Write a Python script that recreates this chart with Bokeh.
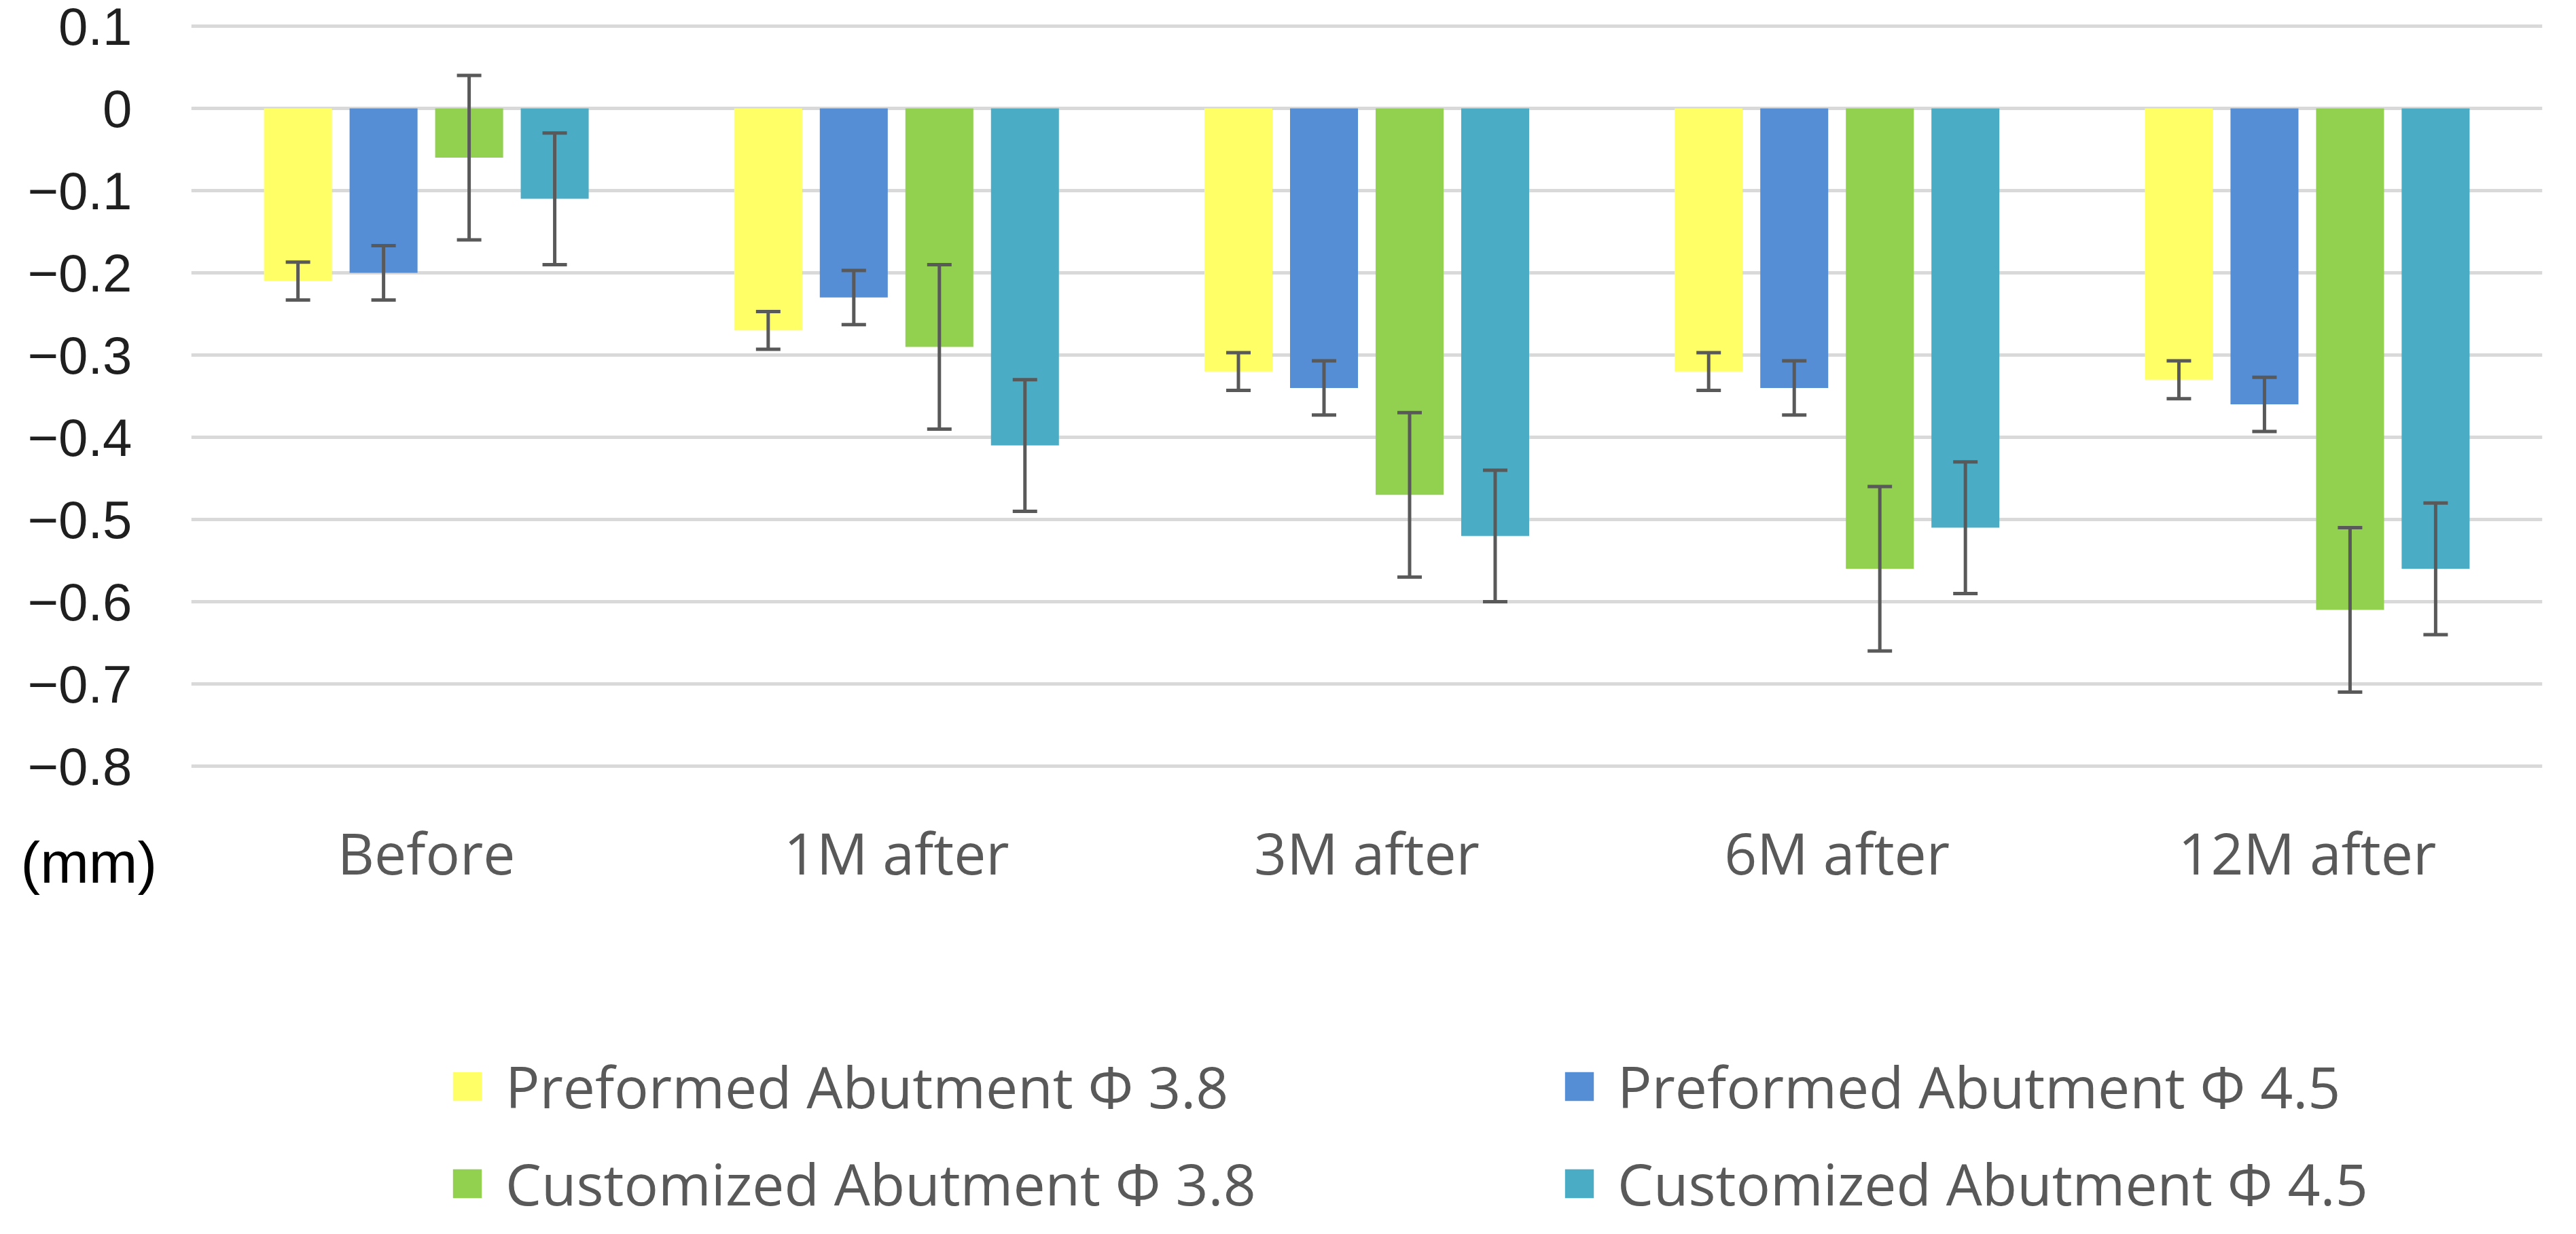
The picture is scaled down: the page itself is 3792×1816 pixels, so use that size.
from bokeh.plotting import figure
from bokeh.models import (ColumnDataSource, FactorRange, Range1d, FixedTicker, Whisker,
                          TeeHead, Legend, LegendItem, LinearAxis)
from bokeh.core.properties import value
from bokeh.transform import dodge
from bokeh.embed import file_html
from bokeh.resources import INLINE

# ---------------- data ----------------
categories = ["Before", "1M after", "3M after", "6M after", "12M after"]
series_names = ["Preformed Abutment \u03a6 3.8", "Preformed Abutment \u03a6 4.5",
                "Customized Abutment \u03a6 3.8", "Customized Abutment \u03a6 4.5"]
preformed_38 = [-0.21, -0.27, -0.32, -0.32, -0.33]
preformed_38_err = [0.023, 0.023, 0.023, 0.023, 0.023]
preformed_45 = [-0.20, -0.23, -0.34, -0.34, -0.36]
preformed_45_err = [0.033, 0.033, 0.033, 0.033, 0.033]
customized_38 = [-0.06, -0.29, -0.47, -0.56, -0.61]
customized_38_err = [0.10, 0.10, 0.10, 0.10, 0.10]
customized_45 = [-0.11, -0.41, -0.52, -0.51, -0.56]
customized_45_err = [0.08, 0.08, 0.08, 0.08, 0.08]
y_ticks = [0.1, 0.0, -0.1, -0.2, -0.3, -0.4, -0.5, -0.6, -0.7, -0.8]
y_tick_labels = ["0.1", "0", "\u22120.1", "\u22120.2", "\u22120.3", "\u22120.4",
                 "\u22120.5", "\u22120.6", "\u22120.7", "\u22120.8"]
unit_label = "(mm)"

series_values = [preformed_38, preformed_45, customized_38, customized_45]
series_errors = [preformed_38_err, preformed_45_err, customized_38_err, customized_45_err]
colors = ["#FFFF66", "#558ED5", "#92D050", "#4BACC6"]
offsets = [-0.273, -0.091, 0.091, 0.273]

# layout constants (positions in data space below the value axis)
unit_label_pos = -0.9173
cat_label_pos = -0.905

W, H = 3776, 1800
FRAME_LEFT, FRAME_RIGHT = 281, W - 34
p = figure(width=W, height=H, x_range=FactorRange(*categories),
           y_range=Range1d(-1.3562, 0.1025), x_axis_location=None,
           output_backend="svg", toolbar_location=None,
           min_border_left=FRAME_LEFT, min_border_right=W - FRAME_RIGHT,
           min_border_top=35, min_border_bottom=0)
p.outline_line_color = None
p.background_fill_color = "white"
p.border_fill_color = "white"

# grid only at the value ticks
p.xgrid.grid_line_color = None
p.ygrid.ticker = FixedTicker(ticks=y_ticks)
p.ygrid.grid_line_color = "#D9D9D9"
p.ygrid.grid_line_width = 5

def style_axis(ax):
    ax.axis_line_color = None
    ax.major_tick_line_color = None
    ax.minor_tick_line_color = None
    ax.major_tick_out = 0
    ax.major_tick_in = 0

# value axis
yax = p.yaxis[0]
yax.ticker = FixedTicker(ticks=y_ticks)
yax.major_label_overrides = {t: l for t, l in zip(y_ticks, y_tick_labels)}
style_axis(yax)
yax.major_label_text_font = "Liberation Sans"
yax.major_label_text_font_size = "78px"
yax.major_label_text_color = "#1F1F1F"
yax.major_label_standoff = 87

# unit label "(mm)" drawn as the single label of an extra axis, shifted to the left edge
unit_ax = LinearAxis(ticker=FixedTicker(ticks=[unit_label_pos]),
                     major_label_overrides={unit_label_pos: unit_label})
style_axis(unit_ax)
unit_ax.major_label_text_font = "Liberation Sans"
unit_ax.major_label_text_font_size = "86px"
unit_ax.major_label_text_color = "#000000"
unit_ax.major_label_standoff = 30 - FRAME_RIGHT
p.add_layout(unit_ax, "right")

renderers = []
for name, vals, errs, col, off in zip(series_names, series_values, series_errors, colors, offsets):
    src = ColumnDataSource(dict(
        cat=categories, val=vals,
        upper=[v + e for v, e in zip(vals, errs)],
        lower=[v - e for v, e in zip(vals, errs)],
    ))
    r = p.vbar(x=dodge("cat", off, range=p.x_range), top="val", bottom=0, width=0.1445,
               source=src, fill_color=col, line_color=None)
    renderers.append(r)
    wh = Whisker(base=dodge("cat", off, range=p.x_range), upper="upper", lower="lower",
                 source=src, line_color="#595959", line_width=5, level="annotation",
                 upper_head=TeeHead(size=36, line_color="#595959", line_width=5),
                 lower_head=TeeHead(size=36, line_color="#595959", line_width=5))
    p.add_layout(wh)

# category labels
cat_src = ColumnDataSource(dict(cat=categories, y=[cat_label_pos] * len(categories)))
p.text(x="cat", y="y", text="cat", source=cat_src, text_align="center",
       text_baseline="alphabetic", text_font=value("Open Sans"),
       text_font_size="84px", text_color="#595959")

# legends (two rows)
def make_legend(items, vy):
    return Legend(items=items, orientation="horizontal", location=(380, vy),
                  glyph_width=53, glyph_height=53, label_standoff=30, label_width=1300,
                  spacing=254, padding=0, margin=0, border_line_color=None,
                  background_fill_alpha=0, label_text_font="Open Sans",
                  label_text_font_size="84px", label_text_color="#595959")

leg1 = make_legend([LegendItem(label=series_names[0], renderers=[renderers[0]]),
                    LegendItem(label=series_names[1], renderers=[renderers[1]])], 144)
leg2 = make_legend([LegendItem(label=series_names[2], renderers=[renderers[2]]),
                    LegendItem(label=series_names[3], renderers=[renderers[3]])], 1)
p.add_layout(leg1)
p.add_layout(leg2)

open("out.html", "w").write(file_html(p, INLINE))
